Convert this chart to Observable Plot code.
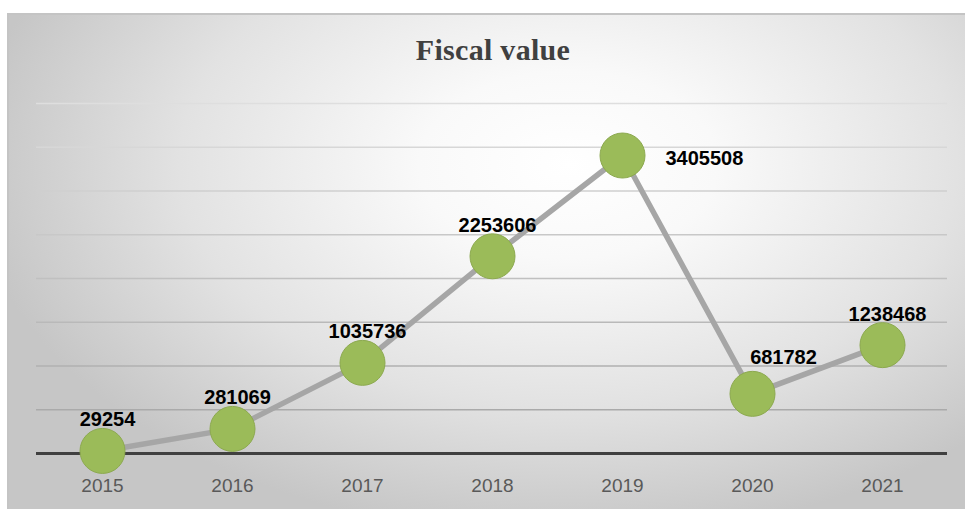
<!DOCTYPE html>
<html>
<head>
<meta charset="utf-8">
<script src="https://cdn.jsdelivr.net/npm/d3@7"></script>
<script src="https://cdn.jsdelivr.net/npm/@observablehq/plot@0.6"></script>
<style>
  html, body { margin: 0; padding: 0; background: #ffffff; }
  #wrap { position: relative; width: 965px; height: 509px; overflow: hidden; }
  #frame {
    position: absolute; left: 7px; top: 13px; width: 966px; height: 500px;
    box-sizing: border-box; border-top: 2px solid #c4c4c4; border-left: 2px solid #c4c4c4;
    background: radial-gradient(ellipse 62% 75% at 58% 30%, #ffffff 0%, #f9f9f9 25%, #e2e2e2 65%, #c6c6c6 100%);
  }
  #title {
    position: absolute; left: 0; width: 986px; top: 33px; text-align: center;
    font-family: "Liberation Serif", "Times New Roman", serif; font-weight: bold;
    font-size: 30px; color: #404040; letter-spacing: 0.3px;
  }
  #chart { position: absolute; left: 0; top: 0; }
</style>
</head>
<body>
<div id="wrap">
  <div id="frame"></div>
  <div id="title">Fiscal value</div>
  <div id="chart"></div>
</div>
<script>
const years = ["2015", "2016", "2017", "2018", "2019", "2020", "2021"];
const values = [29254, 281069, 1035736, 2253606, 3405508, 681782, 1238468];
const gridTicks = [500000, 1000000, 1500000, 2000000, 2500000, 3000000, 3500000, 4000000];

const data = years.map((y, i) => ({year: y, value: values[i]}));
const aboveLabels = data.filter(d => d.year !== "2019" && d.year !== "2020");
const rightLabels = data.filter(d => d.year === "2019");
const shiftedLabels = data.filter(d => d.year === "2020");

const gridColor = d3.interpolateRgb("#a2a2a2", "#dedede");

const chart = Plot.plot({
  width: 965,
  height: 509,
  marginLeft: 36,
  marginRight: 18,
  marginTop: 103,
  marginBottom: 56,
  style: {background: "transparent", overflow: "visible"},
  x: {type: "point", domain: years, padding: 0.5, label: null},
  y: {domain: [0, 4000000], axis: null},
  marks: [
    Plot.ruleY(gridTicks, {stroke: d => gridColor(d / 4000000), strokeWidth: 1.3}),
    Plot.ruleY([0], {stroke: "#404040", strokeWidth: 3}),
    Plot.axisX({tickSize: 0, tickPadding: 25, fontSize: 19, fill: "#595959",
      fontFamily: "Liberation Sans, Arial, sans-serif", label: null}),
    Plot.line(data, {x: "year", y: "value", stroke: "#a6a6a6", strokeWidth: 5.5}),
    Plot.dot(data, {x: "year", y: "value", r: 22.5, fill: "#9bbb59", stroke: "#8ca94f", strokeWidth: 1}),
    Plot.text(aboveLabels, {x: "year", y: "value", text: d => String(d.value), dx: 5, dy: -31,
      fontSize: 20, fontWeight: "bold", fill: "#000000", fontFamily: "Liberation Sans, Arial, sans-serif"}),
    Plot.text(rightLabels, {x: "year", y: "value", text: d => String(d.value), dx: 43, dy: 3, textAnchor: "start",
      fontSize: 20, fontWeight: "bold", fill: "#000000", fontFamily: "Liberation Sans, Arial, sans-serif"}),
    Plot.text(shiftedLabels, {x: "year", y: "value", text: d => String(d.value), dx: 31, dy: -36,
      fontSize: 20, fontWeight: "bold", fill: "#000000", fontFamily: "Liberation Sans, Arial, sans-serif"})
  ]
});
document.getElementById("chart").appendChild(chart);
</script>
</body>
</html>
